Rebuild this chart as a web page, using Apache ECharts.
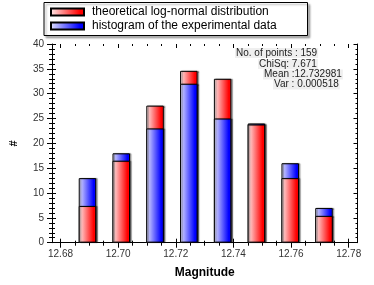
<!DOCTYPE html>
<html><head><meta charset="utf-8">
<script src="https://cdn.jsdelivr.net/npm/echarts@6/dist/echarts.min.js"></script>
<style>html,body{margin:0;padding:0;background:#fff}#c{width:374px;height:285px}</style>
</head><body><div id="c"></div>
<script>
const binCenters = [12.6872, 12.6992, 12.7112, 12.7232, 12.7352, 12.7472, 12.7592, 12.7712];
const theoretical = [7.4, 16.5, 27.6, 34.6, 33.0, 23.8, 13.0, 5.4];
const experimental = [13, 18, 23, 32, 25, 24, 16, 7];
const xTickLabels = ['12.68', '12.70', '12.72', '12.74', '12.76', '12.78'];
const statsLines = ['No. of points : 159', 'ChiSq: 7.671', 'Mean :12.732981', 'Var : 0.000518'];
const nameT = 'theoretical log-normal distribution';
const nameE = 'histogram of the experimental data';

const FONT = 'Liberation Sans, Arial, sans-serif';
const red = new echarts.graphic.LinearGradient(0, 0, 1, 0, [
  {offset: 0, color: '#ffeeee'}, {offset: 0.85, color: '#ff0000'}, {offset: 1, color: '#ff0000'}]);
const blue = new echarts.graphic.LinearGradient(0, 0, 1, 0, [
  {offset: 0, color: '#e6e6ff'}, {offset: 0.85, color: '#0000ff'}, {offset: 1, color: '#0000ff'}]);

function barSeries(name, color, values, other, back) {
  const data = [];
  values.forEach((v, i) => {
    const isBack = name === nameT ? v >= other[i] : v > other[i];
    if (isBack === back) data.push([binCenters[i], v]);
  });
  return {
    type: 'bar', name: name, xAxisIndex: 0, yAxisIndex: 0,
    barWidth: 17.5, barGap: '-100%', data: data,
    z: back ? 3 : 4,
    itemStyle: {color: color, borderColor: '#000', borderWidth: 1,
      shadowColor: 'rgba(0,0,0,0.35)', shadowOffsetX: 1.5, shadowBlur: 1},
    emphasis: {disabled: true}
  };
}

const axisLineBlack = {show: true, lineStyle: {color: '#000', width: 1}};
const gridBox = {top: 44, bottom: 42.3};

const option = {
  animation: false,
  backgroundColor: '#fff',
  grid: [
    {left: 45, right: 16.5, top: gridBox.top, bottom: gridBox.bottom},
    {left: 60.5, right: 25.3, top: gridBox.top, bottom: gridBox.bottom}
  ],
  legend: {
    data: [nameT, nameE], orient: 'vertical', left: 50, top: 5, padding: 0, itemGap: 0,
    itemWidth: 33, itemHeight: 7, icon: 'rect', selectedMode: false,
    textStyle: {fontSize: 12, color: '#000', fontFamily: FONT, lineHeight: 14, padding: [0, 0, 0, 3]}
  },
  xAxis: [
    {type: 'value', gridIndex: 0, min: 12.6746, max: 12.7831, position: 'bottom',
     axisLine: axisLineBlack, axisTick: {show: false}, axisLabel: {show: false}, splitLine: {show: false},
     name: 'Magnitude', nameLocation: 'middle', nameGap: 24,
     nameTextStyle: {fontSize: 12, fontWeight: 'bold', color: '#000', fontFamily: FONT}},
    {type: 'value', gridIndex: 0, min: 12.6746, max: 12.7831, position: 'top',
     axisLine: axisLineBlack, axisTick: {show: false}, axisLabel: {show: false}, splitLine: {show: false}},
    {type: 'value', gridIndex: 1, min: 12.68, max: 12.78, interval: 0.02, position: 'bottom',
     axisLine: {show: false}, splitLine: {show: false},
     axisTick: {show: true, length: 5, lineStyle: {color: '#000'}},
     minorTick: {show: true, splitNumber: 4, length: 3, lineStyle: {color: '#000'}},
     axisLabel: {show: true, fontSize: 10, color: '#333', margin: 7, fontFamily: FONT,
       formatter: function (v) { return xTickLabels[Math.round((v - 12.68) / 0.02)] || ''; }}},
    {type: 'value', gridIndex: 1, min: 12.68, max: 12.78, interval: 0.02, position: 'bottom',
     axisLine: {show: false}, splitLine: {show: false}, axisLabel: {show: false},
     axisTick: {show: true, inside: true, length: 4, lineStyle: {color: '#000'}},
     minorTick: {show: true, splitNumber: 4, length: 2, lineStyle: {color: '#000'}}},
    {type: 'value', gridIndex: 1, min: 12.68, max: 12.78, interval: 0.02, position: 'top',
     axisLine: {show: false}, splitLine: {show: false}, axisLabel: {show: false},
     axisTick: {show: true, inside: true, length: 4, lineStyle: {color: '#000'}},
     minorTick: {show: true, splitNumber: 4, length: 2, lineStyle: {color: '#000'}}}
  ],
  yAxis: [
    {type: 'value', gridIndex: 0, min: 0, max: 40, interval: 5, position: 'left',
     axisLine: axisLineBlack, splitLine: {show: false},
     axisTick: {show: true, length: 5, lineStyle: {color: '#000'}},
     minorTick: {show: true, splitNumber: 5, length: 3, lineStyle: {color: '#000'}},
     axisLabel: {fontSize: 10, color: '#333', margin: 8, fontFamily: FONT},
     name: '#', nameLocation: 'middle', nameGap: 33,
     nameTextStyle: {fontSize: 11, fontWeight: 'bold', color: '#000', fontFamily: FONT}},
    {type: 'value', gridIndex: 0, min: 0, max: 40, interval: 5, position: 'left',
     axisLine: {show: false}, splitLine: {show: false}, axisLabel: {show: false},
     axisTick: {show: true, inside: true, length: 4, lineStyle: {color: '#000'}},
     minorTick: {show: true, splitNumber: 5, length: 3, lineStyle: {color: '#000'}}},
    {type: 'value', gridIndex: 0, min: 0, max: 40, interval: 5, position: 'right',
     axisLine: axisLineBlack, splitLine: {show: false}, axisLabel: {show: false},
     axisTick: {show: true, inside: true, length: 4, lineStyle: {color: '#000'}},
     minorTick: {show: true, splitNumber: 5, length: 2, lineStyle: {color: '#000'}}},
    {type: 'value', gridIndex: 1, min: 0, max: 40, show: false}
  ],
  graphic: [
    {type: 'rect', left: 43.5, top: 2, z: -1, silent: true,
     shape: {width: 263.5, height: 33},
     style: {fill: '#fff', stroke: '#000', lineWidth: 1,
       shadowColor: 'rgba(0,0,0,0.3)', shadowOffsetX: 2, shadowOffsetY: 2, shadowBlur: 2}}
  ].concat(statsLines.map((s, i) => ({
    type: 'text', z: 10, silent: true,
    left: [235, 258, 263, 273][i], top: [48, 59, 69.5, 79.5][i],
    style: {text: s, fontSize: 10, fontFamily: FONT, fill: '#222',
      backgroundColor: '#efefef', padding: [0, 1]}
  }))),
  series: [
    barSeries(nameT, red, theoretical, experimental, true),
    barSeries(nameE, blue, experimental, theoretical, true),
    barSeries(nameT, red, theoretical, experimental, false),
    barSeries(nameE, blue, experimental, theoretical, false)
  ]
};
const chart = echarts.init(document.getElementById('c'), null, {renderer: 'canvas'});
chart.setOption(option);
</script></body></html>
